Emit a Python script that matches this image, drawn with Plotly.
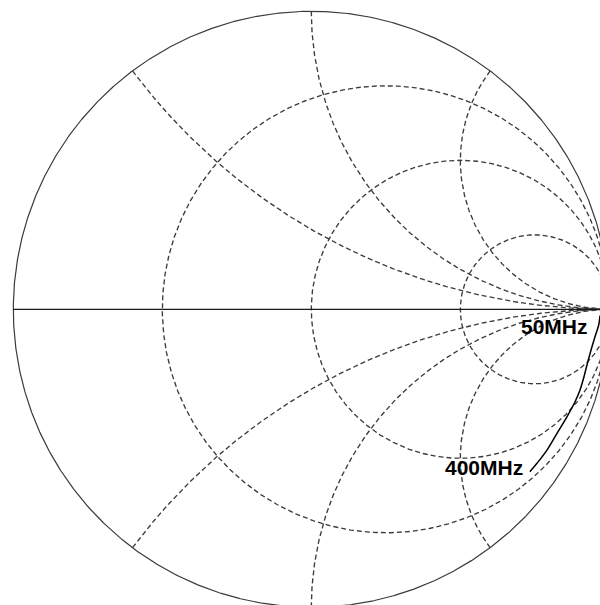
import numpy as np
import plotly.graph_objects as go

# Smith chart grid values (normalized impedance)
R_GRID = [1 / 3, 1, 3]          # constant-resistance circles
X_GRID = [0.5, 1, 2]            # constant-reactance arcs (drawn for +x and -x)

# Measured trace, normalized impedance z = r + jx, from 50 MHz to 400 MHz
TRACE_R = [43.4, 16.6, 7.92, 4.48, 2.87, 1.91, 1.37, 1.10, 0.892, 0.721, 0.568, 0.489, 0.447]
TRACE_X = [-29.6, -26.1, -17.1, -12.2, -9.53, -7.75, -6.53, -5.67, -4.80, -4.08, -3.54, -3.17, -2.96]

LABELS = ["50MHz", "400MHz"]


def gamma(z):
    return (z - 1) / (z + 1)


fig = go.Figure()

grid_style = dict(color="#3c3c3c", width=1.35, dash="5px,3px")
theta = np.linspace(0, 2 * np.pi, 1441)

# outer boundary (r = 0)
g0 = 0 + 1.0 * np.exp(1j * theta)
fig.add_trace(go.Scatter(x=g0.real, y=g0.imag, mode="lines",
                         line=dict(color="#3a3a3a", width=1.2), hoverinfo="skip"))

# constant resistance circles
for r in R_GRID:
    c = r / (1 + r)
    rho = 1 / (1 + r)
    g = c + rho * np.exp(1j * theta)
    fig.add_trace(go.Scatter(x=g.real, y=g.imag, mode="lines",
                             line=grid_style, hoverinfo="skip"))

# constant reactance arcs
rr = np.concatenate([[0.0], np.geomspace(1e-3, 1e5, 3000)])
for xv in X_GRID:
    for s in (1, -1):
        g = gamma(rr + 1j * s * xv)
        fig.add_trace(go.Scatter(x=g.real, y=g.imag, mode="lines",
                                 line=grid_style, hoverinfo="skip"))

# real axis (x = 0)
ga = gamma(np.array([0.0, 1e9]) + 0j)
fig.add_trace(go.Scatter(x=ga.real, y=ga.imag, mode="lines",
                         line=dict(color="#1a1a1a", width=1.3), hoverinfo="skip"))

# measured trace
gt = gamma(np.array(TRACE_R) + 1j * np.array(TRACE_X))
fig.add_trace(go.Scatter(x=gt.real, y=gt.imag, mode="lines",
                         line=dict(color="black", width=1.5, shape="spline"),
                         hoverinfo="skip"))

label_font = dict(family="Liberation Sans, Arial, sans-serif", size=21, color="black")
fig.add_annotation(x=0.935, y=-0.0584, xref="x", yref="y", text="<b>" + LABELS[0] + "</b>",
                   showarrow=False, xanchor="right", yanchor="middle", font=label_font)
fig.add_annotation(x=0.717, y=-0.532, xref="x", yref="y", text="<b>" + LABELS[1] + "</b>",
                   showarrow=False, xanchor="right", yanchor="middle", font=label_font)

# chart geometry: circle centre and radius in pixels
R_PX = 298.0
cx_px = 311.3
cy_px = 309.3
x0 = -cx_px / R_PX
y1 = cy_px / R_PX
fig.update_layout(
    width=600, height=605,
    margin=dict(l=0, r=0, t=0, b=0),
    paper_bgcolor="white", plot_bgcolor="white",
    showlegend=False,
    xaxis=dict(range=[x0, x0 + 600 / R_PX], visible=False, fixedrange=True),
    yaxis=dict(range=[y1 - 605 / R_PX, y1], visible=False, fixedrange=True),
)

fig.write_html(
    "out.html",
    config={"displayModeBar": False},
    post_script="document.body.style.margin='0';document.body.style.overflow='hidden';",
)
